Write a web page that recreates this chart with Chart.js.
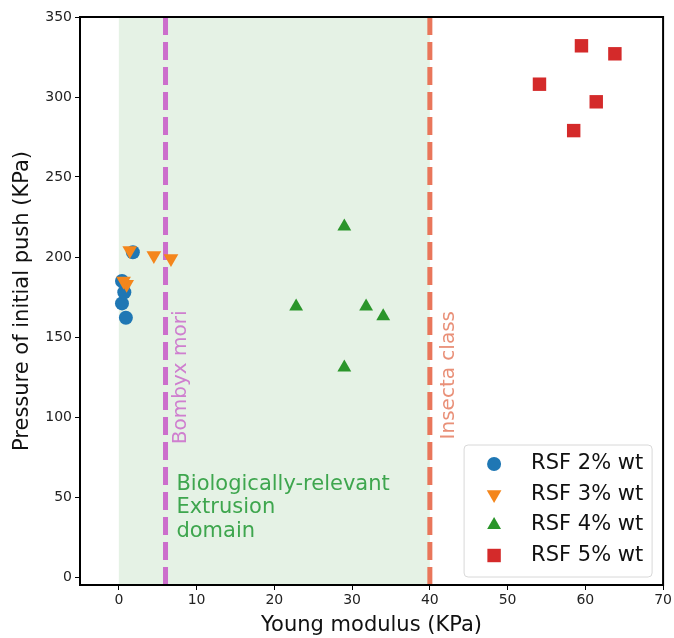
<!DOCTYPE html>
<html>
<head>
<meta charset="utf-8">
<script src="https://cdn.jsdelivr.net/npm/chart.js@4.4.1/dist/chart.umd.min.js"></script>
<style>
  html, body { margin: 0; padding: 0; background: #fff; }
  #wrap { width: 674px; height: 638px; }
</style>
</head>
<body>
<div id="wrap"><canvas id="chart" width="674" height="638"></canvas></div>
<script>
const xTicks = [0, 10, 20, 30, 40, 50, 60, 70];
const yTicks = [0, 50, 100, 150, 200, 250, 300, 350];

// Young modulus (KPa), pressure of initial push (KPa)
const rsf2 = [{x: 0.9, y: 162}, {x: 0.4, y: 171}, {x: 0.7, y: 178}, {x: 0.4, y: 185}, {x: 1.8, y: 203}];
const rsf3 = [{x: 1.4, y: 204}, {x: 4.5, y: 201}, {x: 6.7, y: 199}, {x: 1.0, y: 183}, {x: 0.6, y: 185}];
const rsf4 = [{x: 29.0, y: 219}, {x: 22.8, y: 169}, {x: 31.8, y: 169}, {x: 34.0, y: 163}, {x: 29.0, y: 131}];
const rsf5 = [{x: 59.5, y: 332}, {x: 63.8, y: 327}, {x: 54.1, y: 308}, {x: 61.4, y: 297}, {x: 58.5, y: 279}];

const domain = [0, 40];
const bombyx = 6;
const insecta = 40;

const FONT = "'DejaVu Sans', sans-serif";

function drawMarker(ctx, style, color, r, x, y) {
  ctx.save();
  ctx.fillStyle = color;
  ctx.beginPath();
  if (style === 'circle') {
    ctx.arc(x, y, r, 0, Math.PI * 2);
  } else if (style === 'rect') {
    const s = Math.SQRT1_2 * r;
    ctx.rect(x - s, y - s, 2 * s, 2 * s);
  } else {
    const rot = style === 'down' ? Math.PI : 0;
    for (let i = 0; i < 3; i++) {
      const a = rot + i * 2 * Math.PI / 3;
      const px = x + Math.sin(a) * r, py = y - Math.cos(a) * r;
      if (i === 0) ctx.moveTo(px, py); else ctx.lineTo(px, py);
    }
    ctx.closePath();
  }
  ctx.fill();
  ctx.restore();
}

const annotations = {
  id: 'annotations',
  beforeDatasetsDraw(chart) {
    const {ctx, chartArea: a, scales: {x, y}} = chart;
    ctx.save();
    // green domain
    ctx.fillStyle = 'rgba(44,150,44,0.12)';
    const x0 = x.getPixelForValue(domain[0]), x1 = x.getPixelForValue(domain[1]);
    ctx.fillRect(x0, a.top, x1 - x0, a.bottom - a.top);

    // dashed lines
    ctx.lineWidth = 5;
    ctx.setLineDash([18, 7]);
    [[bombyx, '#cc6ecc'], [insecta, '#e9765a']].forEach(([v, c]) => {
      const px = x.getPixelForValue(v);
      ctx.strokeStyle = c;
      ctx.beginPath();
      ctx.moveTo(px, a.bottom);
      ctx.lineTo(px, a.top);
      ctx.stroke();
    });
    ctx.setLineDash([]);

    // rotated labels
    ctx.font = '20px ' + FONT;
    ctx.textAlign = 'left';
    ctx.textBaseline = 'top';
    [['Bombyx mori', 6.7, 83, '#cf7fcf'], ['Insecta class', 41.1, 86, '#e99078']].forEach(([t, vx, vy, c]) => {
      ctx.save();
      ctx.translate(x.getPixelForValue(vx), y.getPixelForValue(vy));
      ctx.rotate(-Math.PI / 2);
      ctx.fillStyle = c;
      ctx.fillText(t, 0, 0);
      ctx.restore();
    });

    // domain text
    ctx.font = '21px ' + FONT;
    ctx.fillStyle = '#3ea64e';
    ctx.textBaseline = 'middle';
    const tx = x.getPixelForValue(7.4);
    const ty = y.getPixelForValue(58);
    ['Biologically-relevant', 'Extrusion', 'domain'].forEach((t, i) => {
      ctx.fillText(t, tx, ty + i * 23.5);
    });
    ctx.restore();
  },
  afterDraw(chart) {
    const {ctx, chartArea: a} = chart;
    ctx.save();
    ctx.strokeStyle = '#000';
    ctx.lineWidth = 2;
    ctx.strokeRect(a.left, a.top, a.right - a.left, a.bottom - a.top);

    // legend
    const w = 188, h = 132;
    const lx = a.right - 11 - w, ly = a.bottom - 8 - h;
    ctx.fillStyle = 'rgba(255,255,255,0.85)';
    ctx.strokeStyle = '#d8d8d8';
    ctx.lineWidth = 1;
    ctx.beginPath();
    if (ctx.roundRect) ctx.roundRect(lx, ly, w, h, 4); else ctx.rect(lx, ly, w, h);
    ctx.fill();
    ctx.stroke();
    ctx.font = '21px ' + FONT;
    ctx.textAlign = 'left';
    ctx.textBaseline = 'middle';
    chart.data.datasets.forEach((ds, i) => {
      const cy = ly + 19 + i * 30.5;
      drawMarker(ctx, ds.marker, ds.backgroundColor, ds.pointRadius, lx + 30, cy);
      ctx.fillStyle = '#111';
      ctx.fillText(ds.label, lx + 67, cy);
    });
    ctx.restore();
  }
};

const ctx = document.getElementById('chart').getContext('2d');
const chart = new Chart(ctx, {
  type: 'scatter',
  data: {
    datasets: [
      {label: 'RSF 2% wt', data: rsf2, marker: 'circle', pointStyle: 'circle', pointRadius: 7,
       backgroundColor: '#1f77b4', borderColor: '#1f77b4', borderWidth: 0, order: 4},
      {label: 'RSF 3% wt', data: rsf3, marker: 'down', pointStyle: 'triangle', pointRotation: 180, pointRadius: 8.5,
       backgroundColor: '#f4861c', borderColor: '#f4861c', borderWidth: 0, order: 3},
      {label: 'RSF 4% wt', data: rsf4, marker: 'triangle', pointStyle: 'triangle', pointRadius: 8,
       backgroundColor: '#2a952a', borderColor: '#2a952a', borderWidth: 0, order: 2},
      {label: 'RSF 5% wt', data: rsf5, marker: 'rect', pointStyle: 'rect', pointRadius: 9.5,
       backgroundColor: '#d42a2a', borderColor: '#d42a2a', borderWidth: 0, order: 1}
    ]
  },
  options: {
    responsive: false,
    animation: false,
    events: [],
    layout: {padding: {left: 0, right: 9, top: 17, bottom: 0}},
    plugins: {legend: {display: false}, tooltip: {enabled: false}},
    scales: {
      x: {
        type: 'linear',
        min: -5,
        max: 70,
        afterBuildTicks: (s) => { s.ticks = xTicks.map(v => ({value: v})); },
        afterFit: (s) => { s.height = 53; },
        grid: {drawOnChartArea: false, drawTicks: true, tickLength: 5, color: '#000'},
        border: {display: false},
        ticks: {font: {family: FONT, size: 14}, color: '#222', padding: 2, maxRotation: 0},
        title: {display: true, text: 'Young modulus (KPa)', font: {family: FONT, size: 21}, color: '#111',
                padding: {top: 0, bottom: 0}}
      },
      y: {
        type: 'linear',
        min: -5,
        max: 350,
        afterBuildTicks: (s) => { s.ticks = yTicks.map(v => ({value: v})); },
        afterFit: (s) => { s.width = 80; },
        grid: {drawOnChartArea: false, drawTicks: true, tickLength: 5, color: '#000'},
        border: {display: false},
        ticks: {font: {family: FONT, size: 14}, color: '#222', padding: 3},
        title: {display: true, text: 'Pressure of initial push (KPa)', font: {family: FONT, size: 21}, color: '#111',
                padding: {top: 10, bottom: 0}}
      }
    }
  },
  plugins: [annotations]
});
</script>
</body>
</html>
